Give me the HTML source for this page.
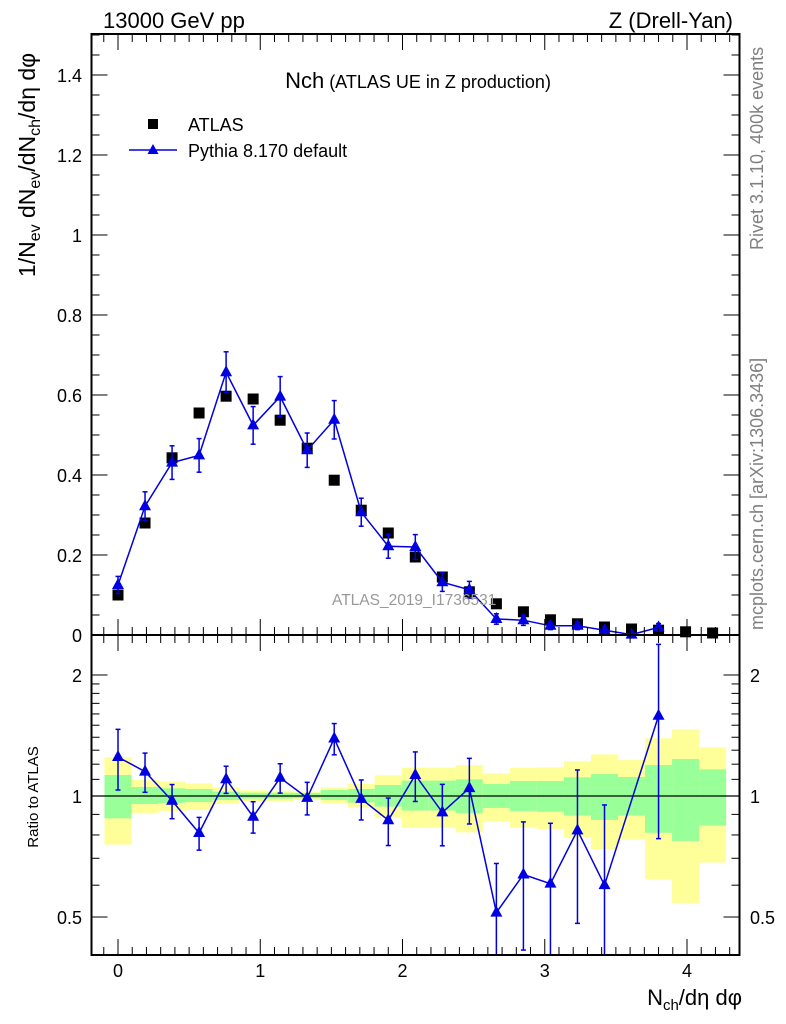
<!DOCTYPE html>
<html><head><meta charset="utf-8"><style>
html,body{margin:0;padding:0;background:#fff;width:786px;height:1024px;overflow:hidden}
svg{display:block;font-family:"Liberation Sans",sans-serif}
</style></head><body>
<svg id="chart" width="786" height="1024" xmlns="http://www.w3.org/2000/svg">
<rect width="786" height="1024" fill="#fff"/>
<g id="bands"></g>
<g id="marks"></g>
<g id="axes"></g>
<text x="103" y="28" font-size="22">13000 GeV pp</text>
<text x="733" y="28" font-size="22" text-anchor="end">Z (Drell-Yan)</text>
<text x="418" y="88" text-anchor="middle"><tspan font-size="22">Nch</tspan><tspan font-size="18"> (ATLAS UE in Z production)</tspan></text>
<g>
<rect x="148" y="119" width="10" height="10" fill="#000"/>
<text x="188" y="131" font-size="18">ATLAS</text>
<line x1="129" y1="150" x2="177" y2="150" stroke="#0000e0" stroke-width="1.5"/>
<polygon points="153,144 147.5,154 158.5,154" fill="#0000e0"/>
<text x="188" y="157" font-size="18">Pythia 8.170 default</text>
</g>
<text transform="translate(763,250) rotate(-90)" font-size="18" fill="#808080">Rivet 3.1.10,  400k events</text>
<text transform="translate(763,630) rotate(-90)" font-size="18" fill="#808080">mcplots.cern.ch [arXiv:1306.3436]</text>
<text x="332" y="605" font-size="15.5" fill="#999">ATLAS_2019_I1736531</text>
<text transform="translate(35,165) rotate(-90)" font-size="23" text-anchor="middle">1/N<tspan font-size="16" dy="5">ev</tspan><tspan dy="-5"> dN</tspan><tspan font-size="16" dy="5">ev</tspan><tspan dy="-5">/dN</tspan><tspan font-size="16" dy="5">ch</tspan><tspan dy="-5">/dη dφ</tspan></text>
<text transform="translate(38,797) rotate(-90)" font-size="15" text-anchor="middle">Ratio to ATLAS</text>
<text x="742" y="1005" font-size="22" text-anchor="end">N<tspan font-size="15" dy="5">ch</tspan><tspan dy="-5">/dη dφ</tspan></text>
</svg>
<script>
const xCenters=[0,0.19,0.38,0.57,0.76,0.95,1.14,1.33,1.52,1.71,1.9,2.09,2.28,2.47,2.66,2.85,3.04,3.23,3.42,3.61,3.8,3.99,4.18];
const atlasVals=[0.100,0.28,0.443,0.555,0.597,0.59,0.537,0.467,0.387,0.312,0.255,0.195,0.145,0.108,0.078,0.058,0.038,0.028,0.02,0.015,0.012,0.008,0.005];
const pythiaVals=[0.125,0.322,0.431,0.449,0.657,0.524,0.596,0.462,0.538,0.307,0.222,0.220,0.132,0.113,0.040,0.037,0.023,0.023,0.012,0.001,0.019];
const pythiaErr=[0.0215,0.036,0.042,0.042,0.051,0.047,0.050,0.043,0.048,0.035,0.030,0.031,0.023,0.021,0.013,0.013,0.0095,0.0095,0.007,0.0,0.0096];
const greenHi=[1.128,1.053,1.045,1.041,1.025,1.019,1.019,1.017,1.035,1.041,1.065,1.092,1.092,1.100,1.071,1.090,1.090,1.113,1.134,1.115,1.194,1.236,1.165];
const greenLo=[0.880,0.955,0.961,0.966,0.977,0.985,0.985,0.987,0.977,0.963,0.941,0.920,0.920,0.906,0.934,0.918,0.914,0.894,0.872,0.894,0.810,0.773,0.844];
const yellowHi=[1.248,1.096,1.086,1.075,1.051,1.033,1.031,1.025,1.051,1.071,1.126,1.176,1.176,1.194,1.139,1.174,1.178,1.220,1.269,1.229,1.392,1.465,1.321];
const yellowLo=[0.757,0.907,0.918,0.923,0.955,0.970,0.970,0.977,0.959,0.937,0.884,0.834,0.834,0.812,0.863,0.834,0.828,0.788,0.738,0.780,0.620,0.542,0.683];
const mainYTicks=[0,0.2,0.4,0.6,0.8,1,1.2,1.4];
const mainYLabels=["0","0.2","0.4","0.6","0.8","1","1.2","1.4"];
const ratioYTicks=[0.5,1,2];
const ratioYLabels=["0.5","1","2"];
const xTicks=[0,1,2,3,4];
const xLabels=["0","1","2","3","4"];

const L=91.5,R=739.5,T=34,M=635,B=955;
const X=v=>118+v*142.25;
const Y=v=>635-v*400;
const YR=v=>796-Math.log10(v)*402;
const NS="http://www.w3.org/2000/svg";
function mk(tag,attrs,parent){const e=document.createElementNS(NS,tag);for(const k in attrs)e.setAttribute(k,attrs[k]);parent.appendChild(e);return e;}
const bands=document.getElementById('bands'),marks=document.getElementById('marks'),axes=document.getElementById('axes');
const hw=0.095;
xCenters.forEach((c,i)=>{
  const x0=Math.max(X(c-hw),L),x1=X(c+hw);
  let r=mk('rect',{x:x0,y:YR(yellowHi[i]),width:x1-x0,height:YR(yellowLo[i])-YR(yellowHi[i]),fill:'#ffff99'},bands);
  
  
  r=mk('rect',{x:x0,y:YR(greenHi[i]),width:x1-x0,height:YR(greenLo[i])-YR(greenHi[i]),fill:'#99ff99'},bands);
  
  
});
let one=mk('line',{x1:L,x2:R,y1:YR(1),y2:YR(1),stroke:'#000','stroke-width':1.3},bands);


xCenters.forEach((c,i)=>{
  const s=mk('rect',{x:X(c)-5.5,y:Y(atlasVals[i])-5.5,width:11,height:11,fill:'#000'},marks);
  
  
});
function clipY(y,top,bot){return Math.min(Math.max(y,top),bot);}
let pts=pythiaVals.map((v,i)=>X(xCenters[i])+','+Y(v)).join(' ');
let pl=mk('polyline',{points:pts,fill:'none',stroke:'#0000e0','stroke-width':1.5},marks);


const ratio=pythiaVals.map((v,i)=>v/atlasVals[i]);
const rIdx=ratio.map((v,i)=>i).filter(i=>YR(ratio[i])<B);
pts=rIdx.map(i=>X(xCenters[i])+','+YR(ratio[i])).join(' ');
pl=mk('polyline',{points:pts,fill:'none',stroke:'#0000e0','stroke-width':1.5},marks);


function tri(x,y,name){const p=mk('polygon',{points:`${x},${y-7} ${x-6},${y+4} ${x+6},${y+4}`,fill:'#0000e0'},marks);}
function errbar(x,y1,y2,name){
  if(Math.abs(y2-y1)<0.5)return;
  const g=mk('g',{stroke:'#0000e0','stroke-width':1.5},marks);
  
  
  mk('line',{x1:x,x2:x,y1:y1,y2:y2},g);
  mk('line',{x1:x-2.5,x2:x+2.5,y1:y1,y2:y1},g);
  mk('line',{x1:x-2.5,x2:x+2.5,y1:y2,y2:y2},g);
}
pythiaVals.forEach((v,i)=>{
  const x=X(xCenters[i]);
  errbar(x,clipY(Y(v+pythiaErr[i]),T,M),clipY(Y(Math.max(v-pythiaErr[i],0)),T,M),'pythia-error-'+i);
  tri(x,Y(v),'pythia-point-'+i);
  const d=atlasVals[i],r=ratio[i],e=pythiaErr[i]/d;
  const lo=r-e;
  errbar(x,clipY(YR(r+e),M,B),lo>0?clipY(YR(lo),M,B):B,'pythia-ratio-error-'+i);
  if(YR(r)<B) tri(x,YR(r),'pythia-ratio-point-'+i);
});
[[T,M,'main-frame'],[M,B,'ratio-frame']].forEach(([t,b,n])=>{
  const f=mk('rect',{x:L,y:t,width:R-L,height:b-t,fill:'none',stroke:'#000','stroke-width':2},axes);
  
  
});
for(let k=-1;k<=43;k++){
  const v=k/10,x=X(v);
  if(x<L||x>R)continue;
  const major=k%10===0,len=major?16:8;
  [[M,-1],[T,1],[B,-1],[M,1]].forEach(([y0,dir])=>{mk('line',{x1:x,x2:x,y1:y0,y2:y0+dir*len,stroke:'#000','stroke-width':1},axes);});
}
xTicks.forEach((v,i)=>{const t=mk('text',{x:X(v),y:977,'font-size':18,'text-anchor':'middle'},axes);t.textContent=xLabels[i];});
for(let k=0;k<=30;k++){
  const v=k*0.05,y=Y(v);if(y<T)continue;
  const len=k%4===0?16:8;
  mk('line',{x1:L,x2:L+len,y1:y,y2:y,stroke:'#000'},axes);
  mk('line',{x1:R,x2:R-len,y1:y,y2:y,stroke:'#000'},axes);
}
mainYTicks.forEach((v,i)=>{const t=mk('text',{x:82,y:Y(v)+7,'font-size':18,'text-anchor':'end'},axes);t.textContent=mainYLabels[i];});
const rmin=[0.5,0.6,0.7,0.8,0.9,1,1.1,1.2,1.3,1.4,1.5,1.6,1.7,1.8,1.9,2];
rmin.forEach(v=>{const y=YR(v);const len=(v===0.5||v===1||v===2)?16:8;
  mk('line',{x1:L,x2:L+len,y1:y,y2:y,stroke:'#000'},axes);
  mk('line',{x1:R,x2:R-len,y1:y,y2:y,stroke:'#000'},axes);});
ratioYTicks.forEach((v,i)=>{
  let t=mk('text',{x:82,y:YR(v)+7,'font-size':18,'text-anchor':'end'},axes);t.textContent=ratioYLabels[i];
  t=mk('text',{x:750,y:YR(v)+7,'font-size':18},axes);t.textContent=ratioYLabels[i];
});
</script>
</body></html>
